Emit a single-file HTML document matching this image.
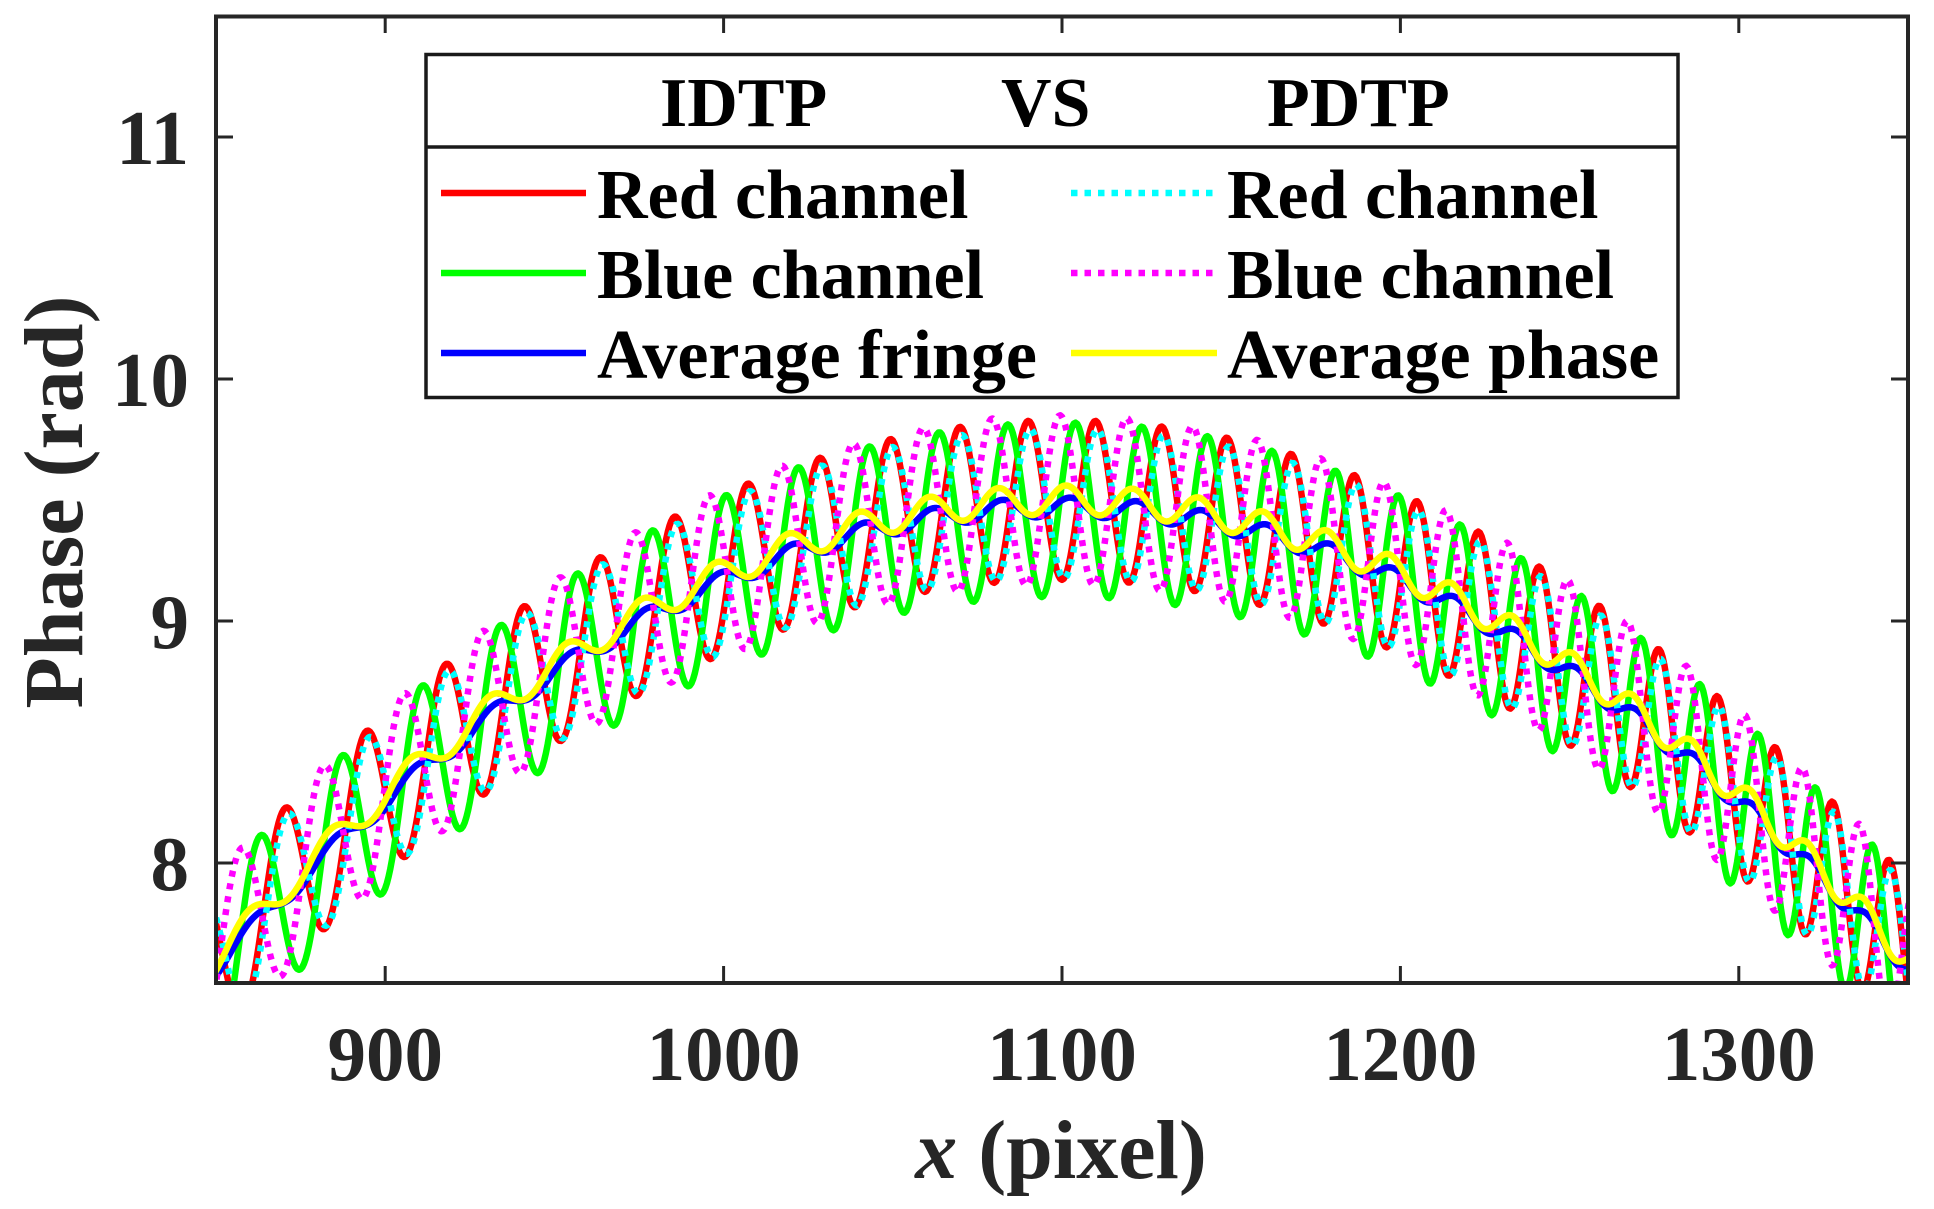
<!DOCTYPE html>
<html>
<head>
<meta charset="utf-8">
<style>
  html,body{margin:0;padding:0;background:#fff;}
  svg{display:block;}
  .t{font-family:"Liberation Serif","Times New Roman",serif;font-weight:bold;}
</style>
</head>
<body>
<svg id="s" width="1934" height="1209" viewBox="0 0 1934 1209" xmlns="http://www.w3.org/2000/svg">
  <rect x="0" y="0" width="1934" height="1209" fill="#fff"/>
  <defs>
    <clipPath id="clip"><rect x="216" y="16" width="1692" height="967"/></clipPath>
  </defs>
  <g id="curves" clip-path="url(#clip)"></g>

  <!-- axes box -->
  <rect x="216" y="16.5" width="1692" height="966.5" fill="none" stroke="#262626" stroke-width="4"/>
  <!-- y ticks -->
  <g stroke="#262626" stroke-width="3">
    <line x1="216" y1="137" x2="233" y2="137"/>
    <line x1="216" y1="379" x2="233" y2="379"/>
    <line x1="216" y1="621" x2="233" y2="621"/>
    <line x1="216" y1="863" x2="233" y2="863"/>
    <line x1="1908" y1="137" x2="1891" y2="137"/>
    <line x1="1908" y1="379" x2="1891" y2="379"/>
    <line x1="1908" y1="621" x2="1891" y2="621"/>
    <line x1="1908" y1="863" x2="1891" y2="863"/>
    <!-- x ticks -->
    <line x1="385.2" y1="983" x2="385.2" y2="966"/>
    <line x1="723.6" y1="983" x2="723.6" y2="966"/>
    <line x1="1062" y1="983" x2="1062" y2="966"/>
    <line x1="1400.4" y1="983" x2="1400.4" y2="966"/>
    <line x1="1738.8" y1="983" x2="1738.8" y2="966"/>
    <line x1="385.2" y1="16" x2="385.2" y2="33"/>
    <line x1="723.6" y1="16" x2="723.6" y2="33"/>
    <line x1="1062" y1="16" x2="1062" y2="33"/>
    <line x1="1400.4" y1="16" x2="1400.4" y2="33"/>
    <line x1="1738.8" y1="16" x2="1738.8" y2="33"/>
  </g>

  <!-- tick labels -->
  <g class="t" font-size="77" fill="#262626" text-anchor="end">
    <text x="189" y="164">11</text>
    <text x="189" y="406">10</text>
    <text x="189" y="648">9</text>
    <text x="189" y="890">8</text>
  </g>
  <g class="t" font-size="77" fill="#262626" text-anchor="middle">
    <text x="385.2" y="1080">900</text>
    <text x="723.6" y="1080">1000</text>
    <text x="1062" y="1080">1100</text>
    <text x="1400.4" y="1080">1200</text>
    <text x="1738.8" y="1080">1300</text>
  </g>

  <!-- axis labels -->
  <text class="t" font-size="84" fill="#262626" x="1061" y="1178" text-anchor="middle"><tspan font-style="italic">x</tspan> (pixel)</text>
  <text class="t" font-size="84" fill="#262626" text-anchor="middle" transform="translate(82,502) rotate(-90)">Phase (rad)</text>

  <!-- legend -->
  <rect x="426" y="54.5" width="1252" height="343" fill="#fff" stroke="#1a1a1a" stroke-width="3.5"/>
  <line x1="426" y1="147" x2="1678" y2="147" stroke="#1a1a1a" stroke-width="3.5"/>
  <g class="t" font-size="70" fill="#000">
    <text x="660" y="126">IDTP</text>
    <text x="1001" y="126">VS</text>
    <text x="1267" y="126">PDTP</text>
    <text x="597" y="218">Red channel</text>
    <text x="597" y="298">Blue channel</text>
    <text x="597" y="378">Average fringe</text>
    <text x="1227" y="218">Red channel</text>
    <text x="1227" y="298">Blue channel</text>
    <text x="1227" y="378">Average phase</text>
  </g>
  <g stroke-width="6.5" fill="none">
    <line x1="441" y1="193" x2="586" y2="193" stroke="#ff0000"/>
    <line x1="441" y1="273" x2="586" y2="273" stroke="#00ff00"/>
    <line x1="441" y1="353" x2="586" y2="353" stroke="#0000ff"/>
    <line x1="1071" y1="193" x2="1217" y2="193" stroke="#00ffff" stroke-dasharray="6.5 7"/>
    <line x1="1071" y1="273" x2="1217" y2="273" stroke="#ff00ff" stroke-dasharray="6.5 7"/>
    <line x1="1071" y1="353" x2="1217" y2="353" stroke="#ffff00"/>
  </g>
</svg>
<script>
(function(){
  var X0=216, XS=1692/500, Y10=379, YS=242;
  function px(x){return X0+(x-850)*XS;}
  function py(v){return Y10-(v-10)*YS;}
  function base(x){var d=x-1100;return 9.5-3.04e-5*d*d;}
  function nn(x){var d=x-1100;return 10.5+0.0503*d+2e-5*d*d;}
  var series=[
    {c:"#ff0000",dash:null,off:0.0,amp:0.33,ph:0.0},
    {c:"#00ff00",dash:null,off:-0.04,amp:0.36,ph:0.30},
    {c:"#0000ff",dash:null,off:-0.03,amp:0.04,ph:0.38},
    {c:"#00ffff",dash:"6 7",off:-0.015,amp:0.31,ph:-0.03},
    {c:"#ff00ff",dash:"6 7",off:0.0,amp:0.35,ph:0.53},
    {c:"#ffff00",dash:null,off:0.0,amp:0.06,ph:0.44}
  ];
  var g=document.getElementById("curves");
  var NS="http://www.w3.org/2000/svg";
  series.forEach(function(s){
    var d="";
    for(var x=846;x<=1354;x+=0.5){
      var v=base(x)+s.off+s.amp*Math.cos(2*Math.PI*(nn(x)+s.ph));
      d+=(d?"L":"M")+px(x).toFixed(2)+" "+py(v).toFixed(2);
    }
    var p=document.createElementNS(NS,"path");
    p.setAttribute("d",d);
    p.setAttribute("fill","none");
    p.setAttribute("stroke",s.c);
    p.setAttribute("stroke-width","6.5");
    p.setAttribute("stroke-linejoin","round");
    if(s.dash){p.setAttribute("stroke-dasharray",s.dash);}
    g.appendChild(p);
  });
})();
</script>
</body>
</html>
